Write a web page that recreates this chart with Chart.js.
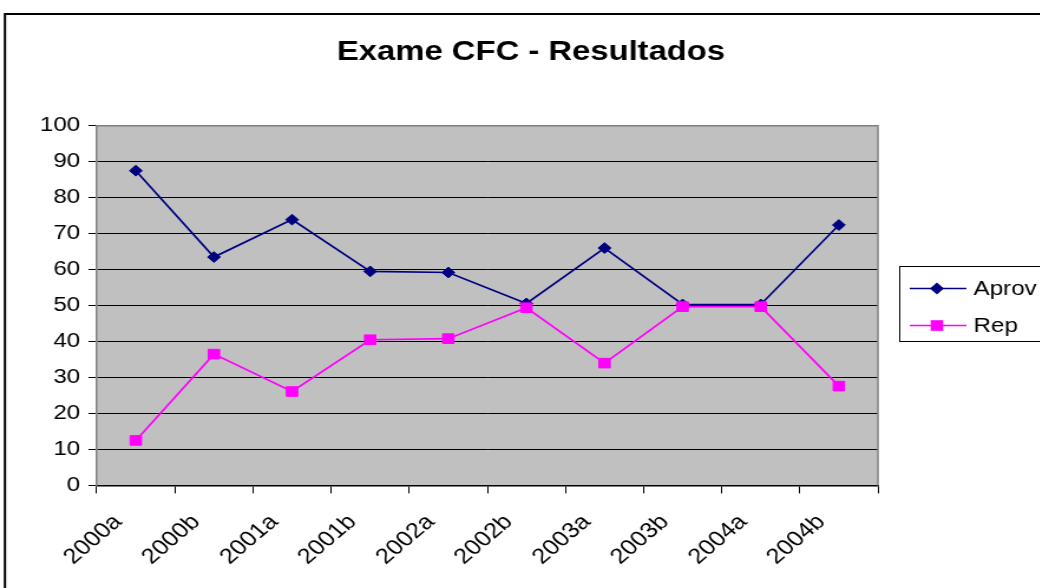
<!DOCTYPE html>
<html>
<head>
<meta charset="utf-8">
<script src="https://cdn.jsdelivr.net/npm/chart.js@4/dist/chart.umd.min.js"></script>
<style>
  html, body { margin: 0; padding: 0; background: #ffffff; overflow: hidden; width: 1040px; height: 588px; }
  #wrap { position: absolute; left: 0; top: 0; width: 900px; height: 588px; transform: scaleX(1.18); transform-origin: 0 0; }
</style>
</head>
<body>
<div id="wrap"><canvas id="c" width="900" height="588"></canvas></div>
<script>
// ---- data ----
const titleText = 'Exame CFC - Resultados';
const categories = ['2000a', '2000b', '2001a', '2001b', '2002a', '2002b', '2003a', '2003b', '2004a', '2004b'];
const aprovValues = [87.5, 63.5, 73.9, 59.5, 59.2, 50.6, 66.0, 50.3, 50.3, 72.4];
const repValues   = [12.5, 36.5, 26.1, 40.5, 40.8, 49.4, 34.0, 49.7, 49.7, 27.6];
const seriesNames = ['Aprov', 'Rep'];
const yTicks = { min: 0, max: 100, step: 10 };

const FONT = "'Liberation Sans', Arial, sans-serif";
const NAVY = '#000080';
const MAGENTA = '#FF00FF';
const LABEL_SIZE = 20.5;
const XLABEL_SIZE = 21.5;

const frameAndBg = {
  id: 'frameAndBg',
  beforeDraw(chart) {
    const ctx = chart.ctx, a = chart.chartArea;
    ctx.save();
    ctx.fillStyle = '#ffffff';
    ctx.fillRect(0, 0, chart.width, chart.height);
    // outer chart border
    ctx.strokeStyle = '#000000';
    ctx.lineWidth = 2;
    ctx.beginPath();
    ctx.moveTo(4.2, 700);
    ctx.lineTo(4.2, 14);
    ctx.lineTo(chart.width + 10, 14);
    ctx.stroke();
    // plot area background
    ctx.fillStyle = '#C0C0C0';
    ctx.fillRect(a.left, a.top, a.right - a.left, a.bottom - a.top);
    ctx.restore();
  },
  beforeDatasetsDraw(chart) {
    const ctx = chart.ctx, a = chart.chartArea;
    ctx.save();
    ctx.strokeStyle = '#808080';
    ctx.lineWidth = 1.5;
    ctx.beginPath();
    ctx.moveTo(a.left, a.top);
    ctx.lineTo(a.right, a.top);
    ctx.lineTo(a.right, a.bottom);
    ctx.stroke();
    ctx.restore();
  },
  afterDraw(chart) {
    const ctx = chart.ctx;
    ctx.save();
    // legend box
    ctx.strokeStyle = '#000000';
    ctx.lineWidth = 1;
    ctx.strokeRect(762.5, 266.5, 200, 75);
    const items = chart.data.datasets.map(d => d);
    items.sort((p, q) => seriesNames.indexOf(p.label) - seriesNames.indexOf(q.label));
    items.forEach((ds, i) => {
      const y = 288.5 + i * 37;
      ctx.strokeStyle = ds.borderColor;
      ctx.lineWidth = ds.borderWidth;
      ctx.beginPath();
      ctx.moveTo(771, y);
      ctx.lineTo(819, y);
      ctx.stroke();
      ctx.fillStyle = ds.backgroundColor;
      ctx.beginPath();
      const cx = 794;
      if (ds.pointStyle === 'rectRot') {
        const r = ds.pointRadius + 0.5;
        ctx.moveTo(cx, y - r);
        ctx.lineTo(cx + r, y);
        ctx.lineTo(cx, y + r);
        ctx.lineTo(cx - r, y);
        ctx.closePath();
      } else {
        const s = Math.SQRT1_2 * ds.pointRadius + 0.5;
        ctx.rect(cx - s, y - s, 2 * s, 2 * s);
      }
      ctx.fill();
      ctx.fillStyle = '#000000';
      ctx.font = LABEL_SIZE + 'px ' + FONT;
      ctx.textAlign = 'left';
      ctx.textBaseline = 'middle';
      ctx.fillText(ds.label, 825, y + 1);
    });
    ctx.restore();
  }
};

new Chart(document.getElementById('c'), {
  type: 'line',
  data: {
    labels: categories,
    datasets: [
      {
        label: seriesNames[0],
        data: aprovValues,
        borderColor: NAVY,
        backgroundColor: NAVY,
        borderWidth: 1.7,
        pointStyle: 'rectRot',
        pointRadius: 5.4,
        pointBorderWidth: 1,
        pointBorderColor: NAVY,
        pointBackgroundColor: NAVY,
        tension: 0,
        order: 1
      },
      {
        label: seriesNames[1],
        data: repValues,
        borderColor: MAGENTA,
        backgroundColor: MAGENTA,
        borderWidth: 1.7,
        pointStyle: 'rect',
        pointRadius: 6.8,
        pointBorderWidth: 1,
        pointBorderColor: MAGENTA,
        pointBackgroundColor: MAGENTA,
        tension: 0,
        order: 0
      }
    ]
  },
  options: {
    responsive: false,
    animation: false,
    devicePixelRatio: 1,
    layout: { padding: { left: 0, right: 0, top: 0, bottom: 0 } },
    plugins: {
      legend: { display: false },
      tooltip: { enabled: false },
      title: {
        display: true,
        text: titleText,
        color: '#000000',
        font: { family: FONT, size: 27.8, weight: 'bold' },
        padding: { top: 36, bottom: 56.4 }
      }
    },
    scales: {
      x: {
        type: 'category',
        offset: true,
        grid: {
          display: true,
          offset: true,
          drawOnChartArea: false,
          drawTicks: true,
          tickLength: 8,
          color: '#000000',
          lineWidth: 1
        },
        border: { display: true, color: '#000000', width: 1.5 },
        ticks: {
          autoSkip: false,
          maxRotation: 45,
          minRotation: 45,
          padding: 16,
          labelOffset: -15,
          color: '#000000',
          font: { family: FONT, size: XLABEL_SIZE }
        },
        afterFit(scale) { scale.height = 102.6; }
      },
      y: {
        type: 'linear',
        position: 'left',
        min: yTicks.min,
        max: yTicks.max,
        grid: {
          display: true,
          color: '#000000',
          lineWidth: 1,
          drawTicks: true,
          tickLength: 7
        },
        border: { display: true, color: '#808080', width: 1.5 },
        ticks: {
          stepSize: yTicks.step,
          padding: 7,
          color: '#000000',
          font: { family: FONT, size: LABEL_SIZE }
        },
        afterFit(scale) { scale.width = 82; }
      },
      yRight: {
        type: 'linear',
        position: 'right',
        display: true,
        grid: { display: false, drawTicks: false },
        border: { display: false },
        ticks: { display: false },
        afterFit(scale) { scale.width = 156; }
      }
    }
  },
  plugins: [frameAndBg]
});
</script>
</body>
</html>
